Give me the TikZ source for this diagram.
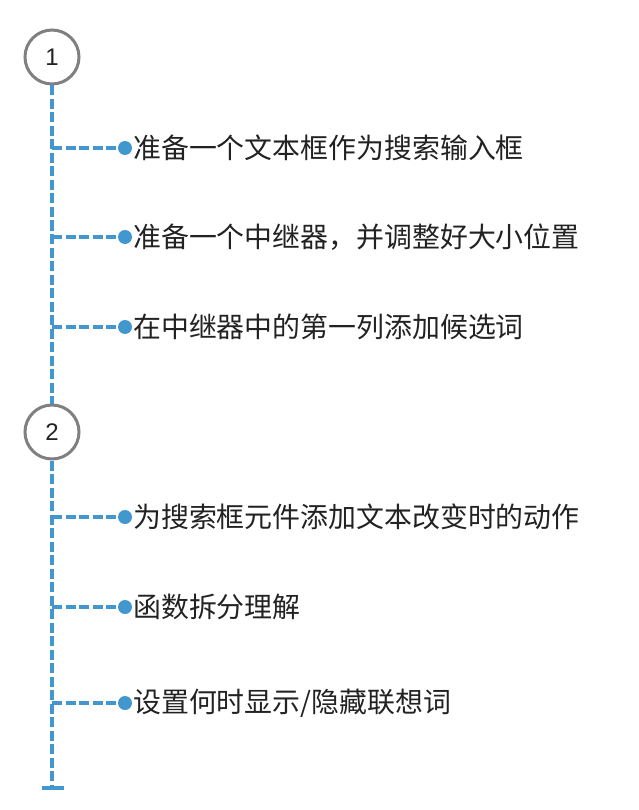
\documentclass[tikz,border=0pt]{standalone}
\usepackage{fontspec}
\setmainfont{Liberation Sans}
\newfontfamily\cjk{Noto Sans CJK SC}
\definecolor{lineblue}{RGB}{66,152,206}
\definecolor{ringgray}{RGB}{128,128,128}
\definecolor{txt}{RGB}{34,34,34}
\begin{document}
\begin{tikzpicture}[x=1pt,y=-1pt,
  stepcircle/.style={circle,draw=ringgray,line width=3pt,fill=white,minimum size=54pt,inner sep=0pt,font=\fontsize{24}{24}\selectfont,text=txt},
  trunk/.style={draw=lineblue,line width=3.5pt,dash pattern=on 10pt off 3.5pt},
  twig/.style={draw=lineblue,line width=3.5pt,dash pattern=on 10pt off 3.5pt},
  dot/.style={circle,fill=lineblue,minimum size=14pt,inner sep=0pt},
  label/.style={anchor=west,inner sep=0pt,font=\cjk\fontsize{27.9}{27.9}\selectfont,text=txt}]
\useasboundingbox (0,0) rectangle (638,810);
\node[stepcircle] (c1) at (52,57) {1};
\node[stepcircle] (c2) at (52,432) {2};
\coordinate (end) at (52,788);
\coordinate (capl) at (42,788);
\coordinate (capr) at (64,788);
\draw[trunk] (c1.south) -- (c2.north);
\draw[trunk] (c2.south) -- (end);
\draw[draw=lineblue,line width=3.5pt] (capl) -- (capr);
\foreach \i/\y/\t in {a/148/{准备一个文本框作为搜索输入框},b/237/{准备一个中继器，并调整好大小位置},c/327/{在中继器中的第一列添加候选词},d/517/{为搜索框元件添加文本改变时的动作},e/607/{函数拆分理解},f/703/{设置何时显示/隐藏联想词}}{
  \coordinate (j\i) at (52,\y);
  \node[dot] (d\i) at (125,\y) {};
  \node[label] (t\i) at (133,\y) {\t};
  \draw[twig] (j\i) -- (d\i);
}
\end{tikzpicture}
\end{document}
